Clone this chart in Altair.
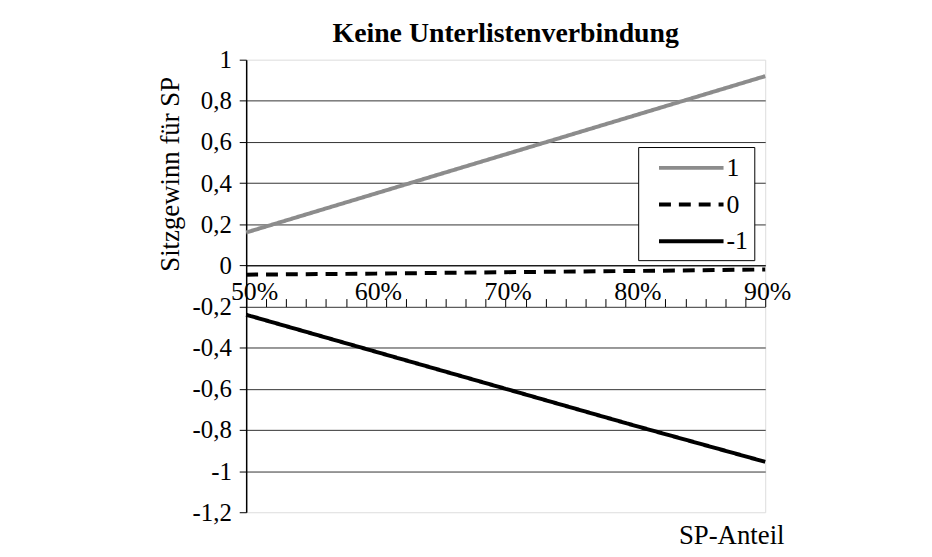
import altair as alt
import pandas as pd

FONT = "Liberation Serif"

# ---- data ----
x_share = [0.5, 0.6, 0.7, 0.8, 0.9]
series_names = ["1", "0", "-1"]
gain_plus1 = [0.16, 0.35, 0.54, 0.73, 0.92]
gain_zero = [-0.045, -0.04, -0.033, -0.027, -0.02]
gain_minus1 = [-0.24, -0.42, -0.60, -0.78, -0.955]
series_colors = ["#8c8c8c", "#000000", "#000000"]
series_dashes = [[1, 0], [12, 8], [1, 0]]

y_ticks = [1, 0.8, 0.6, 0.4, 0.2, 0, -0.2, -0.4, -0.6, -0.8, -1, -1.2]
x_label_values = [0.5, 0.6, 0.7, 0.8, 0.9]
x_minor_intervals = 26
x_tick_values = [0.5 + 0.4 * i / x_minor_intervals for i in range(x_minor_intervals + 1)]

rows = []
for name, vals in zip(series_names, [gain_plus1, gain_zero, gain_minus1]):
    for x, v in zip(x_share, vals):
        rows.append({"Anteil": x, "Gewinn": v, "Serie": name})
df = pd.DataFrame(rows)

W, H = 523, 456
ZERO_OFFSET = -(H - H * 1 / 2.2)

xscale = alt.Scale(domain=[0.5, 0.9], nice=False, zero=False)
yscale = alt.Scale(domain=[-1.2, 1], nice=False, zero=False)

legend_def = alt.Legend(
    orient="none", legendX=395, legendY=88, title=None,
    symbolType="M0,0L5,0", symbolSize=676, symbolStrokeWidth=4,
    labelFont=FONT, labelFontSize=26, labelColor="black", labelOffset=53,
    labelExpr="datum.label + '\u00a0\u00a0\u00a0'",
    padding=6, rowPadding=9, strokeColor="black", fillColor="white",
)

color_enc = alt.Color("Serie:N", scale=alt.Scale(domain=series_names, range=series_colors),
                      legend=legend_def)
dash_enc = alt.StrokeDash("Serie:N", scale=alt.Scale(domain=series_names, range=series_dashes),
                          legend=legend_def)

y_axis = alt.Axis(
    values=y_ticks,
    labelExpr="replace(toString(round(datum.value*10)/10), '.', ',')",
    labelFont=FONT, labelFontSize=25, labelColor="black", labelPadding=8,
    tickSize=7, tickColor="black", domainColor="black", domainWidth=1.5,
    grid=True, gridColor={"condition": {"test": "datum.value >= 0.99 || datum.value <= -1.19",
                                         "value": "transparent"}, "value": "#333333"},
    title="Sitzgewinn für SP", titleFont=FONT, titleFontSize=27, titleFontWeight="normal",
    titleColor="black", titleX=-76, titleY=115, titleAlign="center", titleBaseline="middle",
    titleAngle=270,
)
y_enc = alt.Y("Gewinn:Q", scale=yscale, axis=y_axis)

x_axis_labels = alt.Axis(
    values=x_label_values, format=".0%", ticks=False, grid=False, domain=True,
    domainColor="black", domainWidth=1, labelFont=FONT, labelFontSize=26, labelColor="black",
    labelPadding=13, labelFlush=False, offset=ZERO_OFFSET,
    labelOffset={"condition": {"test": "datum.value < 0.55", "value": 8}, "value": 2},
    title="SP-Anteil", titleFont=FONT, titleFontSize=27, titleFontWeight="normal",
    titleColor="black", titleX=542, titleY=272, titleAlign="right", titleBaseline="middle",
    titleAnchor="end",
)
x_axis_ticks = alt.Axis(
    values=x_tick_values, labels=False, ticks=True, tickSize=8, tickColor="black",
    domain=False, grid=False, offset=ZERO_OFFSET, title=None,
)

base = alt.Chart(df)
solid = base.transform_filter("datum.Serie != '0'").mark_line(strokeWidth=4, strokeCap="butt").encode(
    x=alt.X("Anteil:Q", scale=xscale, axis=x_axis_labels),
    y=y_enc, color=color_enc, strokeDash=dash_enc,
)
dashed = base.transform_filter("datum.Serie == '0'").mark_line(strokeWidth=4, strokeCap="butt").encode(
    x=alt.X("Anteil:Q", scale=xscale, axis=x_axis_ticks),
    y=y_enc, color=color_enc, strokeDash=dash_enc,
)

chart = alt.layer(solid, dashed).resolve_axis(x="independent").properties(
    width=W, height=H,
    autosize=alt.AutoSizeParams(type="none"),
    padding={"left": 240, "top": 50, "right": 160, "bottom": 40},
    title=alt.Title("Keine Unterlistenverbindung", font=FONT, fontSize=28, fontWeight="bold",
                    anchor="middle", offset=0, color="black"),
).configure_view(stroke="#a6a6a6", strokeWidth=2).configure(font=FONT)

chart.save("out.html", embed_options={"renderer": "svg", "actions": False})
